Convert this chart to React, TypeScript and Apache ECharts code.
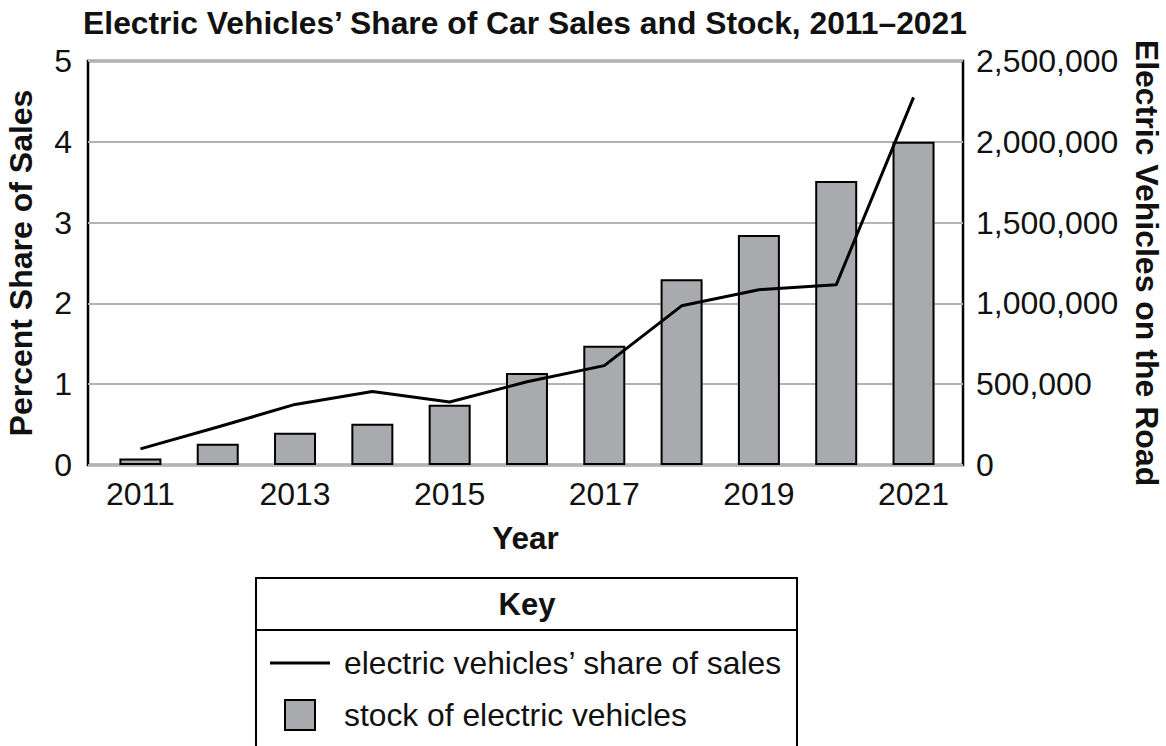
import React, { useEffect, useRef } from "react";
import * as echarts from "echarts";

const years = [2011, 2012, 2013, 2014, 2015, 2016, 2017, 2018, 2019, 2020, 2021];
const salesShare = [0.2, 0.47, 0.75, 0.91, 0.78, 1.03, 1.23, 1.97, 2.17, 2.23, 4.55];
const evStock = [40000, 132000, 200000, 255000, 373000, 569000, 738000, 1150000, 1424000, 1758000, 2000000];
const yearTicks = [2011, 2013, 2015, 2017, 2019, 2021];
const leftTicks = [0, 1, 2, 3, 4, 5];

const titleText = "Electric Vehicles’ Share of Car Sales and Stock, 2011–2021";
const lineName = "electric vehicles’ share of sales";
const barName = "stock of electric vehicles";

const FONT = "'Liberation Sans', Arial, Helvetica, sans-serif";

export default function App() {
  const ref = useRef<HTMLDivElement>(null);
  useEffect(() => {
    if (!ref.current) return;
    const chart = echarts.init(ref.current, undefined, { renderer: "svg" });
    const option: any = {
      animation: false,
      backgroundColor: "#ffffff",
      textStyle: { fontFamily: FONT },
      grid: {
        left: 88,
        right: 203,
        top: 61,
        bottom: 281,
        show: true,
        borderColor: "#000000",
        borderWidth: 2.5,
        containLabel: false,
        outerBoundsMode: "none",
      },
      legend: {
        orient: "vertical",
        left: 270,
        top: 647,
        padding: 0,
        itemWidth: 60,
        itemHeight: 30,
        itemGap: 20,
        selectedMode: false,
        textStyle: { fontSize: 31.8, color: "#111111", fontFamily: FONT, padding: [0, 0, 0, 9] },
        data: [
          { name: lineName, icon: "path://M0,0L60,0L60,3L0,3Z" },
          { name: barName, icon: "path://M0,0L30,0L30,30L0,30Z" },
        ],
      },
      graphic: [
        {
          type: "text",
          x: 525,
          y: 23,
          style: {
            text: titleText,
            fill: "#111111",
            font: `bold 31.8px ${FONT}`,
            textAlign: "center",
            textVerticalAlign: "middle",
          },
        },
        {
          type: "rect",
          shape: { x: 256, y: 578, width: 541, height: 200 },
          style: { fill: "none", stroke: "#000000", lineWidth: 2 },
        },
        {
          type: "line",
          shape: { x1: 256, y1: 630, x2: 797, y2: 630 },
          style: { stroke: "#000000", lineWidth: 2 },
        },
        {
          type: "text",
          x: 527,
          y: 604,
          style: {
            text: "Key",
            fill: "#111111",
            font: `bold 31px ${FONT}`,
            textAlign: "center",
            textVerticalAlign: "middle",
          },
        },
      ],
      xAxis: {
        type: "value",
        min: 2010.322,
        max: 2021.64,
        name: "Year",
        nameLocation: "middle",
        nameGap: 57,
        nameTextStyle: { fontSize: 31.5, fontWeight: "bold", color: "#111111", fontFamily: FONT },
        axisLine: { show: false },
        axisTick: { show: false },
        splitLine: { show: false },
        axisLabel: {
          customValues: yearTicks,
          fontSize: 32,
          color: "#111111",
          margin: 13,
          fontFamily: FONT,
          formatter: (v: number) => String(v),
        },
      },
      yAxis: [
        {
          type: "value",
          min: 0,
          max: 5,
          interval: 1,
          position: "left",
          name: "Percent Share of Sales",
          nameLocation: "middle",
          nameGap: 51,
          nameTextStyle: { fontSize: 32, fontWeight: "bold", color: "#111111", fontFamily: FONT },
          axisLine: { show: false },
          axisTick: { show: false },
          splitLine: { show: true, lineStyle: { color: "#b3b3b3", width: 2 } },
          axisLabel: {
            fontSize: 32,
            color: "#111111",
            margin: 16,
            fontFamily: FONT,
            formatter: (v: number) => (leftTicks.indexOf(v) >= 0 ? String(v) : ""),
          },
        },
        {
          type: "value",
          min: 0,
          max: 2500000,
          interval: 500000,
          position: "right",
          name: "Electric Vehicles on the Road",
          nameLocation: "middle",
          nameGap: 168,
          nameRotate: -90,
          nameTextStyle: { fontSize: 32, fontWeight: "bold", color: "#111111", fontFamily: FONT },
          axisLine: { show: false },
          axisTick: { show: false },
          splitLine: { show: false },
          axisLabel: {
            fontSize: 32,
            color: "#111111",
            margin: 13,
            fontFamily: FONT,
            formatter: (v: number) => v.toLocaleString("en-US"),
          },
        },
      ],
      series: [
        {
          name: barName,
          type: "bar",
          yAxisIndex: 1,
          barWidth: 42,
          data: years.map((y, i) => [y, evStock[i]]),
          itemStyle: { color: "#a9aaad", borderColor: "#000000", borderWidth: 2 },
          z: 2,
        },
        {
          name: lineName,
          type: "line",
          yAxisIndex: 0,
          symbol: "none",
          data: years.map((y, i) => [y, salesShare[i]]),
          lineStyle: { color: "#000000", width: 3 },
          itemStyle: { color: "#000000" },
          z: 3,
        },
      ],
    };
    chart.setOption(option);
    return () => chart.dispose();
  }, []);
  return (
    <div
      ref={ref}
      style={{ position: "fixed", left: 0, top: 0, width: 1166, height: 746, background: "#fff" }}
    />
  );
}
